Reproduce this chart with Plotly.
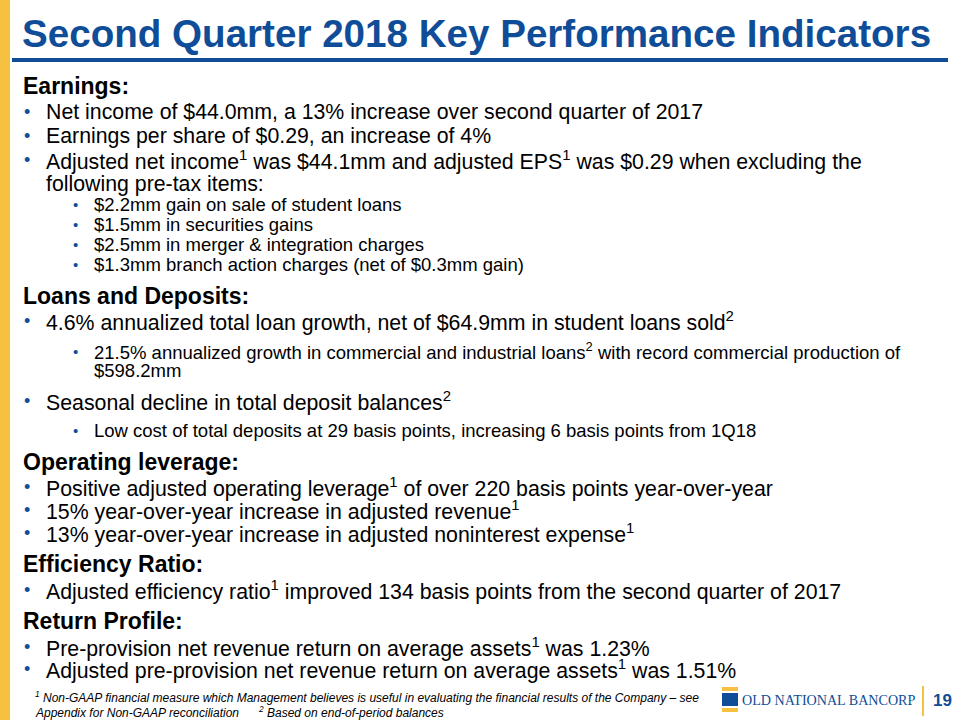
import plotly.graph_objects as go

# ---- content ----
title_text = "Second Quarter 2018 Key Performance Indicators"

line_kinds = ["h", "b", "b", "b", "c", "s", "s", "s", "s",
              "h", "b", "s", "sc", "b", "s",
              "h", "b", "b", "b",
              "h", "b",
              "h", "b", "b"]
line_texts = [
    "Earnings:",
    "Net income of $44.0mm, a 13% increase over second quarter of 2017",
    "Earnings per share of $0.29, an increase of 4%",
    "Adjusted net income<sup>1</sup> was $44.1mm and adjusted EPS<sup>1</sup> was $0.29 when excluding the",
    "following pre-tax items:",
    "$2.2mm gain on sale of student loans",
    "$1.5mm in securities gains",
    "$2.5mm in merger & integration charges",
    "$1.3mm branch action charges (net of $0.3mm gain)",
    "Loans and Deposits:",
    "4.6% annualized total loan growth, net of $64.9mm in student loans sold<sup>2</sup>",
    "21.5% annualized growth in commercial and industrial loans<sup>2</sup> with record commercial production of",
    "$598.2mm",
    "Seasonal decline in total deposit balances<sup>2</sup>",
    "Low cost of total deposits at 29 basis points, increasing 6 basis points from 1Q18",
    "Operating leverage:",
    "Positive adjusted operating leverage<sup>1</sup> of over 220 basis points year-over-year",
    "15% year-over-year increase in adjusted revenue<sup>1</sup>",
    "13% year-over-year increase in adjusted noninterest expense<sup>1</sup>",
    "Efficiency Ratio:",
    "Adjusted efficiency ratio<sup>1</sup> improved 134 basis points from the second quarter of 2017",
    "Return Profile:",
    "Pre-provision net revenue return on average assets<sup>1</sup> was 1.23%",
    "Adjusted pre-provision net revenue return on average assets<sup>1</sup> was 1.51%",
]
footnote_lines = [
    "<sup>1</sup> Non-GAAP financial measure which Management believes is useful in evaluating the financial results of the Company \u2013 see",
    "Appendix for Non-GAAP reconciliation      <sup>2</sup> Based on end-of-period balances",
]
logo_text = "OLD NATIONAL BANCORP"
page_number = "19"

# ---- layout (pixel positions) ----
line_y = [86, 112, 136, 160, 184, 204, 224, 244, 264,
          296, 321, 351, 370, 401, 430,
          462, 487, 510, 533,
          564, 590,
          621, 647, 669]
footnote_y = [697, 712]

BLUE = "#0F4D98"
GOLD = "#F6C140"
FONT = "Liberation Sans, Arial, sans-serif"

fig = go.Figure()
fig.update_layout(
    width=960, height=720, margin=dict(l=0, r=0, t=0, b=0),
    paper_bgcolor="white", plot_bgcolor="white", showlegend=False,
    xaxis=dict(range=[0, 960], visible=False, fixedrange=True),
    yaxis=dict(range=[720, 0], visible=False, fixedrange=True),
)

shapes = [
    dict(type="rect", x0=0, x1=10, y0=0, y1=720, fillcolor=GOLD, line_width=0),
    dict(type="line", x0=12, x1=948, y0=60, y1=60, line=dict(color=BLUE, width=4)),
    # logo icon
    dict(type="rect", x0=722, x1=738, y0=687, y1=691, fillcolor=GOLD, line_width=0),
    dict(type="rect", x0=722, x1=738, y0=693, y1=706, fillcolor=BLUE, line_width=0),
    dict(type="rect", x0=722, x1=738, y0=708, y1=712, fillcolor=GOLD, line_width=0),
    dict(type="line", x0=923, x1=923, y0=686, y1=716, line=dict(color=GOLD, width=2)),
]
for s in shapes:
    s["xref"] = "x"; s["yref"] = "y"; s["layer"] = "below"
fig.update_layout(shapes=shapes)

ann = []
ann.append(dict(x=20, y=33, text="<b>" + title_text + "</b>",
                font=dict(family=FONT, size=38.6, color=BLUE)))
for kind, txt, y in zip(line_kinds, line_texts, line_y):
    if kind == "h":
        ann.append(dict(x=21, y=y, text="<b>" + txt + "</b>",
                        font=dict(family=FONT, size=23, color="black")))
    elif kind == "b":
        ann.append(dict(x=22, y=y, text="\u2022", font=dict(family=FONT, size=18, color=BLUE)))
        ann.append(dict(x=44, y=y, text=txt, font=dict(family=FONT, size=21.3, color="black")))
    elif kind == "c":
        ann.append(dict(x=44, y=y, text=txt, font=dict(family=FONT, size=21.3, color="black")))
    elif kind == "s":
        ann.append(dict(x=71, y=y, text="\u2022", font=dict(family=FONT, size=15, color=BLUE)))
        ann.append(dict(x=92, y=y, text=txt, font=dict(family=FONT, size=18.5, color="black")))
    elif kind == "sc":
        ann.append(dict(x=92, y=y, text=txt, font=dict(family=FONT, size=18.5, color="black")))
for txt, y in zip(footnote_lines, footnote_y):
    ann.append(dict(x=33, y=y, text="<i>" + txt + "</i>",
                    font=dict(family=FONT, size=12, color="black")))
ann.append(dict(x=740, y=700, text=logo_text,
                font=dict(family="Liberation Serif, Times New Roman, serif", size=14.1, color=BLUE)))
ann.append(dict(x=931, y=700, text="<b>" + page_number + "</b>",
                font=dict(family=FONT, size=17, color=BLUE)))

for a in ann:
    a.update(xref="x", yref="y", xanchor="left", yanchor="middle", showarrow=False,
             align="left")
fig.update_layout(annotations=ann)

fig.write_html("out.html", config={"displayModeBar": False},
               post_script="document.body.style.margin='0';")
